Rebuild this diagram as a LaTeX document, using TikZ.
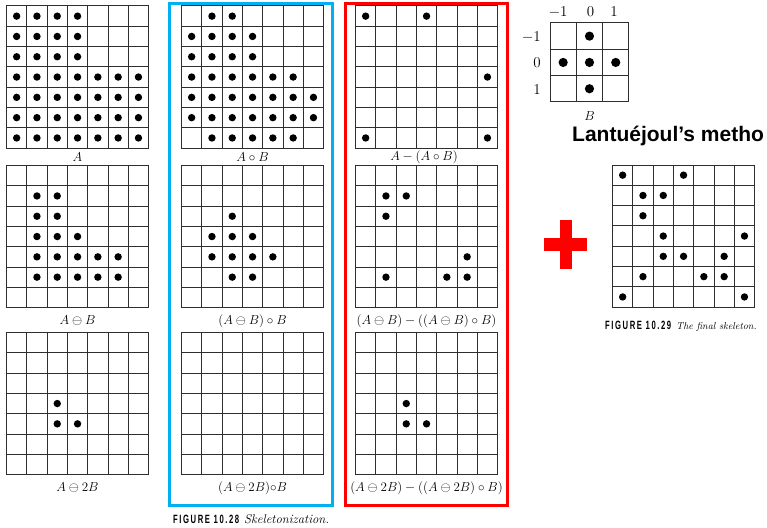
\RequirePackage{fix-cm}
\documentclass[tikz,border=0pt]{standalone}
\usepackage{fontspec}
\newfontfamily\lanfont{Liberation Sans}
\newfontfamily\figfont{Liberation Sans}[FakeStretch=0.64,LetterSpace=13]
\definecolor{skyblue}{HTML}{00B0F0}
\definecolor{plusred}{HTML}{FF0000}
\newcommand{\cellsz}{20.3}
\newcommand{\gridbox}[2]{%
  \begin{scope}[shift={(#1,#2)}]
    \foreach \i in {1,...,6}{
      \draw[gridline] (\i*\cellsz,0) -- (\i*\cellsz,7*\cellsz);
      \draw[gridline] (0,\i*\cellsz) -- (7*\cellsz,\i*\cellsz);
    }
    \draw[gridline] (0,0) rectangle (7*\cellsz,7*\cellsz);
  \end{scope}}
\newcommand{\gdots}[3]{%
  \begin{scope}[shift={(#1,#2)}]
    \foreach \r/\c in {#3}{
      \fill ({(\c+0.5)*\cellsz},{(\r+0.5)*\cellsz}) circle[radius=3.7pt];
    }
  \end{scope}}
\begin{document}
\begin{tikzpicture}[x=1pt,y=-1pt,
  gridline/.style={draw=black!82,line width=1pt},
  lab/.style={font=\fontsize{13}{15}\selectfont,inner sep=0pt},
  blab/.style={font=\fontsize{15}{17}\selectfont,inner sep=0pt},
  figcap/.style={inner sep=0pt,anchor=west},
  frame/.style={line width=3pt}]
\useasboundingbox (0,0) rectangle (767,527);

% ---------- column 1 ----------
\gridbox{6.5}{6}
\gdots{6.5}{6}{0/0,0/1,0/2,0/3,1/0,1/1,1/2,1/3,2/0,2/1,2/2,2/3,
  3/0,3/1,3/2,3/3,3/4,3/5,3/6,4/0,4/1,4/2,4/3,4/4,4/5,4/6,
  5/0,5/1,5/2,5/3,5/4,5/5,5/6,6/0,6/1,6/2,6/3,6/4,6/5,6/6}
\node[lab] (lA) at (77.5,157) {$A$};

\gridbox{6.5}{165.5}
\gdots{6.5}{165.5}{1/1,1/2,2/1,2/2,3/1,3/2,3/3,4/1,4/2,4/3,4/4,4/5,5/1,5/2,5/3,5/4,5/5}
\node[lab] (lAB) at (77.5,321) {$A\ominus B$};

\gridbox{6.5}{332.5}
\gdots{6.5}{332.5}{3/2,4/2,4/3}
\node[lab] (lA2B) at (77.5,488) {$A\ominus 2B$};

% ---------- column 2 ----------
\gridbox{181.5}{6}
\gdots{181.5}{6}{0/1,0/2,1/0,1/1,1/2,1/3,2/0,2/1,2/2,2/3,
  3/0,3/1,3/2,3/3,3/4,3/5,4/0,4/1,4/2,4/3,4/4,4/5,4/6,
  5/0,5/1,5/2,5/3,5/4,5/5,5/6,6/1,6/2,6/3,6/4,6/5}
\node[lab] (lAoB) at (252.5,157) {$A\circ B$};

\gridbox{181.5}{165.5}
\gdots{181.5}{165.5}{2/2,3/1,3/2,3/3,4/1,4/2,4/3,4/4,5/2,5/3}
\node[lab] (lABoB) at (252.5,321) {$(A\ominus B)\circ B$};

\gridbox{181.5}{332.5}
\node[lab] (lA2BoB) at (252.5,488) {$(A\ominus 2B){\circ}B$};

% ---------- column 3 ----------
\gridbox{355.5}{6}
\gdots{355.5}{6}{0/0,0/3,3/6,6/0,6/6}
\node[lab] (lS0) at (424,157) {$A-(A\circ B)$};

\gridbox{355.5}{165.5}
\gdots{355.5}{165.5}{1/1,1/2,2/1,4/5,5/1,5/4,5/5}
\node[lab] (lS1) at (426.5,321) {$(A\ominus B)-((A\ominus B)\circ B)$};

\gridbox{355.5}{332.5}
\gdots{355.5}{332.5}{3/2,4/2,4/3}
\node[lab] (lS2) at (426.5,488) {$(A\ominus 2B)-((A\ominus 2B)\circ B)$};

% ---------- frames ----------
\draw[frame,draw=skyblue] (169,3.5) rectangle (332.5,505);
\draw[frame,draw=plusred] (345,3.5) rectangle (507.5,505.5);

\node[figcap] (cap28) at (173,519) {{\figfont\bfseries\fontsize{12}{14}\selectfont FIGURE 10.28}\hspace{5pt}{\fontsize{12.7}{14}\selectfont\itshape Skeletonization.}};

% ---------- structuring element B ----------
\begin{scope}[shift={(550,23)}]
  \foreach \i in {1,2}{
    \draw[gridline] (\i*26.3,0) -- (\i*26.3,78.9);
    \draw[gridline] (0,\i*26.3) -- (78.9,\i*26.3);
  }
  \draw[gridline] (0,0) rectangle (78.9,78.9);
  \foreach \r/\c in {0/1,1/0,1/1,1/2,2/1}{
    \fill ({(\c+0.5)*26.3},{(\r+0.5)*26.3}) circle[radius=4.6pt];
  }
\end{scope}
\node[blab] (bt1) at (558,12) {$-1$};
\node[blab] (bt2) at (590.5,12) {$0$};
\node[blab] (bt3) at (614,12) {$1$};
\node[blab,anchor=east] (bl1) at (541,37) {$-1$};
\node[blab,anchor=east] (bl2) at (541,63) {$0$};
\node[blab,anchor=east] (bl3) at (541,90) {$1$};
\node[lab] (lB) at (589.5,116) {$B$};

\node[inner sep=0pt,anchor=base west,font=\lanfont\bfseries\fontsize{21}{24}\selectfont] (title) at (572,141) {Lantuéjoul’s metho};

% ---------- plus ----------
\fill[plusred] (544,238) rectangle (587,251);
\fill[plusred] (560,220) rectangle (572,269);

% ---------- final skeleton ----------
\gridbox{612.5}{165}
\gdots{612.5}{165}{0/0,0/3,1/1,1/2,2/1,3/2,3/6,4/2,4/3,4/5,5/1,5/4,5/5,6/0,6/6}
\node[figcap] (cap29) at (605,326) {{\figfont\bfseries\fontsize{12}{14}\selectfont FIGURE 10.29}\hspace{5pt}{\fontsize{10}{12}\selectfont\itshape The final skeleton.}};
\end{tikzpicture}
\end{document}
